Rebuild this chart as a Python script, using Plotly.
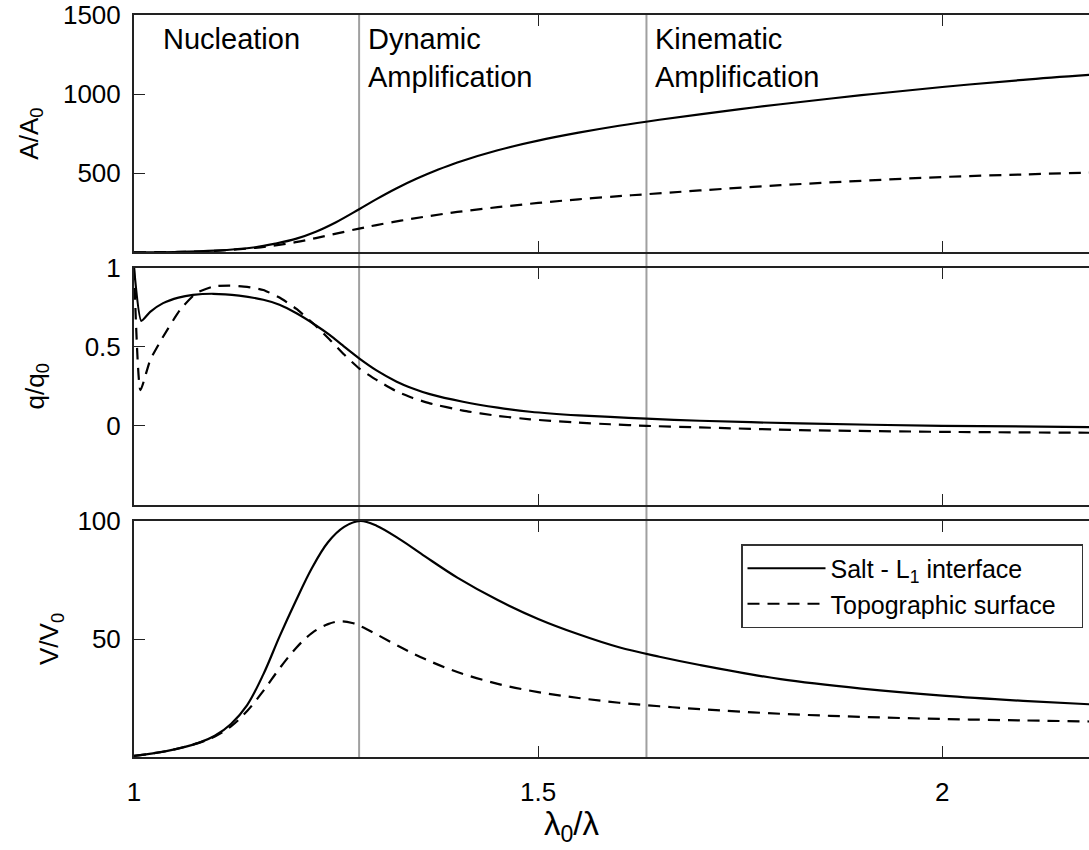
import plotly.graph_objects as go
from plotly.subplots import make_subplots

# ---------------- data ----------------
# Panel 1: amplitude A/A0
a_salt_x = [1.0, 1.05, 1.1, 1.15, 1.175, 1.2, 1.225, 1.25, 1.2785, 1.3, 1.325, 1.35, 1.375,
            1.4, 1.45, 1.5, 1.55, 1.6, 1.65, 1.7, 1.75, 1.8, 1.9, 2.0, 2.1, 2.19]
a_salt_y = [0, 2, 10, 32, 55, 85, 130, 190, 272, 336, 405, 466, 520,
            568, 645, 706, 756, 800, 838, 872, 905, 936, 993, 1045, 1090, 1124]
a_topo_x = [1.0, 1.05, 1.1, 1.15, 1.175, 1.2, 1.225, 1.25, 1.2785, 1.3, 1.33, 1.36, 1.4,
            1.45, 1.5, 1.55, 1.6, 1.634, 1.7, 1.8, 1.9, 2.0, 2.1, 2.19]
a_topo_y = [0, 2, 9, 28, 44, 64, 90, 118, 150, 172, 200, 225, 255,
            285, 312, 335, 355, 367, 391, 424, 452, 476, 492, 505]

# Panel 2: q/q0
q_salt_x = [1.0, 1.009, 1.02, 1.036, 1.055, 1.073, 1.098, 1.13, 1.16, 1.18, 1.201, 1.222,
            1.242, 1.26, 1.2785, 1.3, 1.325, 1.345, 1.366, 1.407, 1.45, 1.49, 1.55, 1.589,
            1.634, 1.7, 1.824, 2.0, 2.19]
q_salt_y = [1.0, 0.663, 0.72, 0.775, 0.81, 0.827, 0.834, 0.822, 0.796, 0.765, 0.711, 0.645,
            0.574, 0.50, 0.426, 0.35, 0.279, 0.236, 0.20, 0.152, 0.115, 0.089, 0.066, 0.056,
            0.045, 0.032, 0.015, 0.0, -0.008]
q_topo_x = [1.0, 1.008, 1.02, 1.036, 1.057, 1.077, 1.098, 1.118, 1.14, 1.16, 1.18, 1.201,
            1.222, 1.242, 1.26, 1.2785, 1.3, 1.325, 1.345, 1.366, 1.407, 1.45, 1.49, 1.55,
            1.589, 1.634, 1.7, 1.824, 2.0, 2.19]
q_topo_y = [1.0, 0.225, 0.415, 0.563, 0.732, 0.838, 0.88, 0.886, 0.878, 0.858, 0.81, 0.738,
            0.645, 0.545, 0.45, 0.363, 0.29, 0.217, 0.176, 0.142, 0.096, 0.063, 0.041, 0.02,
            0.01, 0.0, -0.01, -0.027, -0.038, -0.044]

# Panel 3: V/V0
v_salt_x = [1.0, 1.04, 1.08, 1.1, 1.12, 1.14, 1.16, 1.18, 1.2, 1.22, 1.24, 1.26, 1.28,
            1.3, 1.33, 1.36, 1.4, 1.45, 1.5, 1.55, 1.6, 1.65, 1.7, 1.8, 1.9, 2.0, 2.1, 2.19]
v_salt_y = [0.5, 2.5, 6, 9, 14, 22, 35, 51, 66, 80, 91, 97.5, 100,
            98, 92, 85, 76, 66.5, 58.5, 52, 46.5, 42.5, 39, 33, 29, 26, 23.8, 22.2]
v_topo_x = [1.0, 1.04, 1.08, 1.1, 1.12, 1.14, 1.16, 1.18, 1.2, 1.22, 1.24, 1.255, 1.27,
            1.28, 1.3, 1.33, 1.36, 1.4, 1.45, 1.5, 1.55, 1.6, 1.65, 1.7, 1.8, 1.9, 2.0,
            2.1, 2.19]
v_topo_y = [0.5, 2.5, 6, 8.7, 13, 19.5, 28, 37.5, 46, 52.5, 56.3, 57.5, 56.8,
            55.5, 52, 46.5, 41.5, 36, 31, 27.5, 25, 23, 21.5, 20.3, 18.3, 17, 16.1,
            15.5, 15]

phase_bounds = [1.2785, 1.634]
phase_labels = ["Nucleation", "Dynamic<br>Amplification", "Kinematic<br>Amplification"]
series_names = ["Salt - L<sub>1</sub> interface", "Topographic surface"]

x_ticks = [1, 1.5, 2]
x_ticklabels = ["1", "1.5", "2"]
a_ticks = [500, 1000, 1500]
q_ticks = [0, 0.5, 1]
q_ticklabels = ["0", "0.5", "1"]
v_ticks = [50, 100]

# ---------------- figure ----------------
FONT = "Liberation Sans, Arial, Helvetica, sans-serif"
W, H = 1089, 850
ML, MR, MT, MB = 134, 0, 15, 93
PH = H - MT - MB
PW = W - ML - MR
bottom_px = H - MB


def dom(top_px, bot_px):
    return [(bottom_px - bot_px) / PH, (bottom_px - top_px) / PH]


fig = make_subplots(rows=3, cols=1, shared_xaxes=True, vertical_spacing=0.02)

solid = dict(color="black", width=2.2)
dashed = dict(color="black", width=2.2, dash="12px,8px")
smooth = dict(shape="spline", smoothing=1.0)
smooth_q = dict(shape="spline", smoothing=0.5)
pad = "\u00a0\u00a0\u00a0"  # extra right padding inside the legend box

fig.add_trace(go.Scatter(x=a_salt_x, y=a_salt_y, mode="lines", line=dict(**solid, **smooth),
                         showlegend=False, name=series_names[0]), row=1, col=1)
fig.add_trace(go.Scatter(x=a_topo_x, y=a_topo_y, mode="lines", line=dict(**dashed, **smooth),
                         showlegend=False, name=series_names[1]), row=1, col=1)
fig.add_trace(go.Scatter(x=q_salt_x, y=q_salt_y, mode="lines", line=dict(**solid, **smooth_q),
                         showlegend=False, name=series_names[0]), row=2, col=1)
fig.add_trace(go.Scatter(x=q_topo_x, y=q_topo_y, mode="lines", line=dict(**dashed, **smooth_q),
                         showlegend=False, name=series_names[1]), row=2, col=1)
fig.add_trace(go.Scatter(x=v_salt_x, y=v_salt_y, mode="lines", line=dict(**solid, **smooth),
                         showlegend=True, name=series_names[0] + pad), row=3, col=1)
fig.add_trace(go.Scatter(x=v_topo_x, y=v_topo_y, mode="lines", line=dict(**dashed, **smooth),
                         showlegend=True, name=series_names[1] + pad), row=3, col=1)

# phase boundaries (grey vertical lines through all panels)
for b in phase_bounds:
    fig.add_shape(type="line", xref="x", yref="paper", x0=b, x1=b, y0=0, y1=1,
                  line=dict(color="#a0a0a0", width=2), layer="below")

AXCOL = "#222222"
x_common = dict(range=[1, 2.1815], showgrid=False, zeroline=False, showline=True,
                linecolor=AXCOL, linewidth=2, mirror="ticks", ticks="inside", ticklen=11,
                tickwidth=1.3, tickcolor=AXCOL, tickvals=x_ticks, ticktext=x_ticklabels)
fig.update_xaxes(**x_common)
fig.update_xaxes(showticklabels=False, row=1, col=1)
fig.update_xaxes(showticklabels=False, row=2, col=1)
fig.update_xaxes(showticklabels=True, row=3, col=1, ticklabelstandoff=11,
                 tickfont=dict(size=26, color="black"))

y_common = dict(showgrid=False, zeroline=False, showline=True, linecolor=AXCOL, linewidth=2,
                mirror=False, ticks="inside", ticklen=11, tickwidth=1.3, tickcolor=AXCOL,
                tickfont=dict(size=26, color="black"), ticklabelstandoff=6)
fig.update_yaxes(**y_common)
fig.update_yaxes(row=1, col=1, range=[0, 1500], tickvals=a_ticks, domain=dom(15, 252.3),
                 title=dict(text="A/A<sub>0</sub>", font=dict(size=26, color="black"), standoff=17))
fig.update_yaxes(row=2, col=1, range=[-0.5, 1], tickvals=q_ticks, ticktext=q_ticklabels,
                 domain=dom(267.5, 505),
                 title=dict(text="q/q<sub>0</sub>", font=dict(size=26, color="black"), standoff=33))
fig.update_yaxes(row=3, col=1, range=[0, 100], tickvals=v_ticks, domain=dom(521, 757),
                 title=dict(text="V/V<sub>0</sub>", font=dict(size=26, color="black"), standoff=11))

# phase labels
label_x = [1.034, 1.2875, 1.6425]
for lx, txt in zip(label_x, phase_labels):
    fig.add_annotation(x=lx, xref="x", y=(bottom_px - 21) / PH, yref="paper",
                       text=txt, showarrow=False, xanchor="left", yanchor="top", align="left",
                       font=dict(size=29, color="black"))

# x-axis title
fig.add_annotation(x=(572 - ML) / PW, xref="paper", y=(bottom_px - 803) / PH, yref="paper",
                   text="λ<sub>0</sub>/λ", showarrow=False, xanchor="center", yanchor="top",
                   font=dict(size=33, color="black"))

fig.update_layout(
    width=W, height=H,
    margin=dict(l=ML, r=MR, t=MT, b=MB, autoexpand=False),
    paper_bgcolor="white", plot_bgcolor="white",
    font=dict(family=FONT, color="black"),
    legend=dict(x=(1083 - ML) / PW, xanchor="right",
                y=(bottom_px - 544) / PH, yanchor="top",
                bgcolor="white", bordercolor="#333333", borderwidth=1.5,
                font=dict(size=25, color="black"), itemwidth=78,
                tracegroupgap=0),
    showlegend=True,
)

fig.write_html("out.html")
